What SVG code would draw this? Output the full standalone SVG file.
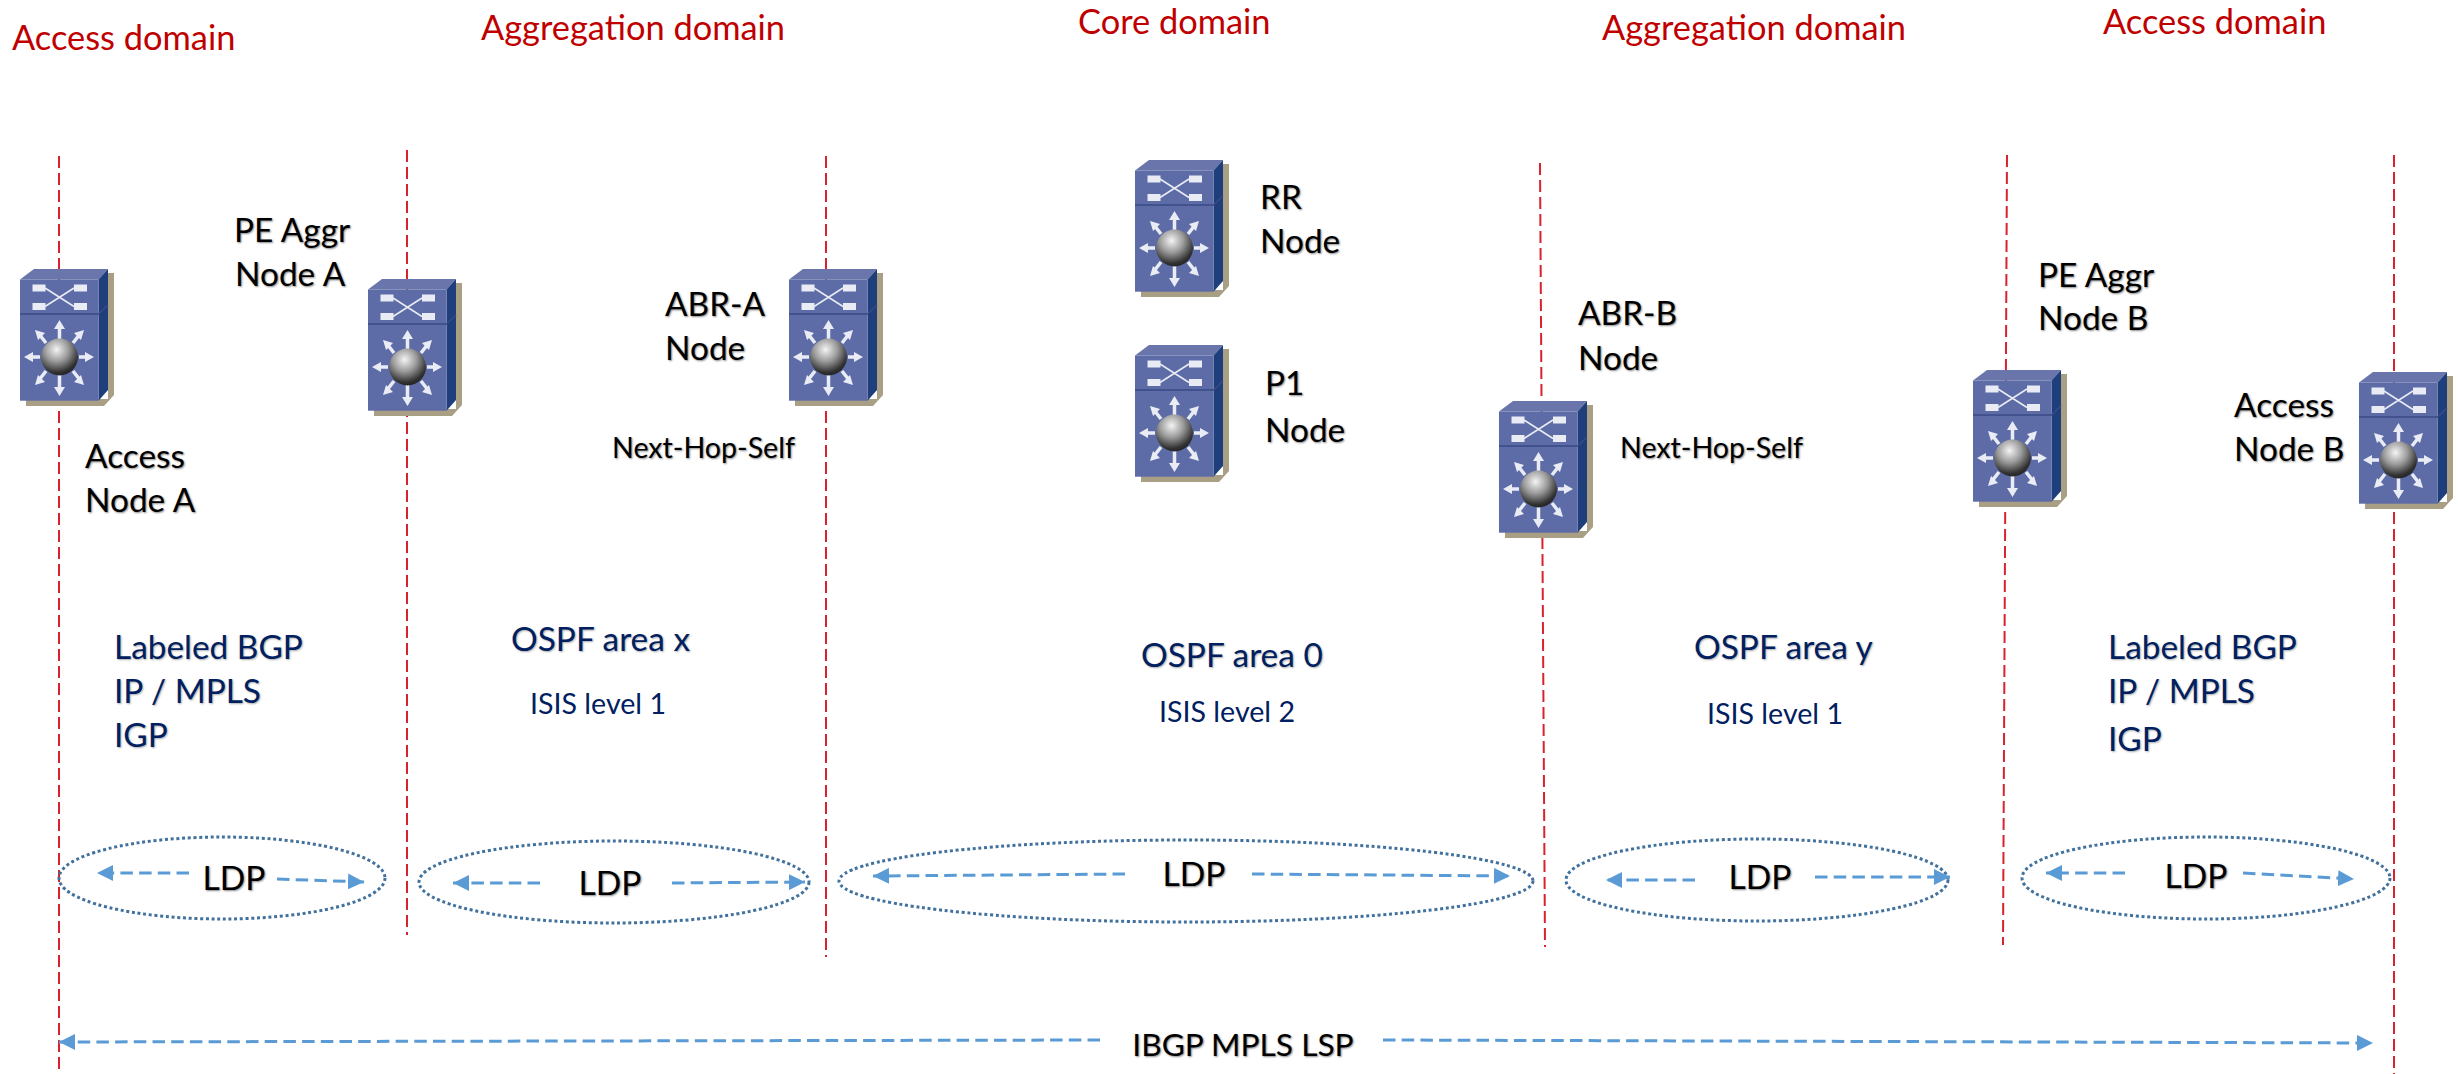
<svg xmlns="http://www.w3.org/2000/svg" width="2458" height="1074" viewBox="0 0 2458 1074">
<style>
text{font-family:"Lato","Carlito","Open Sans",sans-serif}
.dom{fill:#c00000;font-size:34.400px}
.lb{fill:#000;font-size:33.400px;text-shadow:1px 1px 2px #888}
.sm{fill:#000;font-size:28.600px;text-shadow:1px 1px 2px #888}
.ldp{fill:#000;font-size:33.500px;text-shadow:1px 1px 2px #888;text-anchor:middle}
.bl{fill:#002060;font-size:33.400px;text-shadow:1px 1px 2px #aaa}
.bs{fill:#002060;font-size:28.600px;text-anchor:middle}
.red{stroke:#d8232f;stroke-width:2;stroke-dasharray:12 5;fill:none}
.one{stroke:#5b9bd5;stroke-width:3;stroke-dasharray:12.500 6.200;fill:none;marker-end:url(#ah)}
.ell{stroke:#41719c;stroke-width:3;stroke-dasharray:3 2.700;fill:none}
</style>
<defs>
<marker id="ah" viewBox="0 0 16 16" refX="16" refY="8" markerWidth="16" markerHeight="16" markerUnits="userSpaceOnUse" orient="auto"><path d="M0 0L16 8L0 16Z" fill="#5b9bd5"/></marker>
<radialGradient id="ball" cx="0.42" cy="0.3" r="0.72"><stop offset="0" stop-color="#f4f4f4"/><stop offset="0.45" stop-color="#9a9a9a"/><stop offset="0.85" stop-color="#333"/><stop offset="1" stop-color="#222"/></radialGradient>
<symbol id="sw" width="96" height="140" viewBox="0 0 96 140" overflow="visible">
<path d="M6 137H84L94 126V4H88V130H6Z" fill="#a89f84"/>
<path d="M0 10.500L14 0H88L78.500 10.500Z" fill="#6a76ab"/>
<path d="M78.500 10.500L88 0V121L78.500 131.700Z" fill="#1e3f7c"/>
<rect x="0" y="10.500" width="78.500" height="121.200" fill="#5d6ca6"/>
<path d="M0 45H78.500L88 36" fill="none" stroke="#3a4a86" stroke-width="1.500"/>
<g fill="#e9ecf5"><rect x="12.500" y="15.500" width="13" height="7"/><rect x="12.500" y="34" width="13" height="7"/><rect x="54" y="15.500" width="13" height="7"/><rect x="54" y="34" width="13" height="7"/></g>
<path d="M25 19L54 37.500M25 37.500L54 19" stroke="#e9ecf5" stroke-width="1.500" fill="none"/>
<g stroke="#e9ecf5" stroke-width="3.500" fill="#e9ecf5">
<path d="M39.500 70V56M39.500 106V122M20 88H9M59 88H69M26 74L19 65M53 74L60 65M26 102L19 111M53 102L60 111"/>
<path stroke="none" d="M39.500 51L45 60H34ZM39.500 127L34 118H45ZM4 88L13 83V93ZM74 88L65 83V93ZM15 61L25 64L18 71ZM64 61L61 71L54 64ZM15 116L18 106L25 113ZM64 116L54 113L61 106Z"/>
</g>
<circle cx="39.500" cy="88" r="18.500" fill="url(#ball)"/>
</symbol>
</defs>
<g id="connectors">
<path class="red" d="M59 156V1074"/>
<path class="red" d="M407 150V935"/>
<path class="red" d="M826 156V957"/>
<path class="red" d="M1540 163L1545 947"/>
<path class="red" d="M2007 155L2003 945"/>
<path class="red" d="M2394 155V1074"/>
<ellipse class="ell" cx="222" cy="878" rx="163" ry="41"/>
<ellipse class="ell" cx="614" cy="882" rx="195" ry="41"/>
<ellipse class="ell" cx="1186" cy="881" rx="347" ry="41"/>
<ellipse class="ell" cx="1757" cy="880" rx="191" ry="41"/>
<ellipse class="ell" cx="2206" cy="878" rx="184" ry="41"/>
<path class="one" d="M189 873H97"/><path class="one" d="M277 879L364 882"/>
<path class="one" d="M540 883L453 883"/><path class="one" d="M672 883L805 882"/>
<path class="one" d="M1125 874L873 876"/><path class="one" d="M1252 874L1510 876"/>
<path class="one" d="M1695 880L1606 880"/><path class="one" d="M1815 877L1950 877"/>
<path class="one" d="M2125 873L2046 873"/><path class="one" d="M2243 873L2354 879"/>
<path class="one" d="M1100 1040L59 1042"/><path class="one" d="M1383 1040L2373 1043"/>
</g>
<g id="domains">
<text class="dom" x="12" y="50">Access domain</text>
<text class="dom" x="481" y="40">Aggregation domain</text>
<text class="dom" x="1078" y="34">Core domain</text>
<text class="dom" x="1602" y="40">Aggregation domain</text>
<text class="dom" x="2103" y="34">Access domain</text>
</g>
<g id="node-access-a"><use href="#sw" x="20" y="269"/><text class="lb" x="85" y="468">Access</text><text class="lb" x="85" y="512">Node A</text></g>
<g id="node-pe-aggr-a"><use href="#sw" x="368" y="279"/><text class="lb" x="234" y="242">PE Aggr</text><text class="lb" x="235" y="286">Node A</text></g>
<g id="node-abr-a"><use href="#sw" x="789" y="269"/><text class="lb" x="665" y="316">ABR-A</text><text class="lb" x="665" y="360">Node</text><text class="sm" x="612" y="458">Next-Hop-Self</text></g>
<g id="node-rr"><use href="#sw" x="1135" y="160"/><text class="lb" x="1260" y="209">RR</text><text class="lb" x="1260" y="253">Node</text></g>
<g id="node-p1"><use href="#sw" x="1135" y="345"/><text class="lb" x="1265" y="395">P1</text><text class="lb" x="1265" y="442">Node</text></g>
<g id="node-abr-b"><use href="#sw" x="1499" y="401"/><text class="lb" x="1578" y="325">ABR-B</text><text class="lb" x="1578" y="370">Node</text><text class="sm" x="1620" y="458">Next-Hop-Self</text></g>
<g id="node-pe-aggr-b"><use href="#sw" x="1973" y="370"/><text class="lb" x="2038" y="287">PE Aggr</text><text class="lb" x="2038" y="330">Node B</text></g>
<g id="node-access-b"><use href="#sw" x="2359" y="372"/><text class="lb" x="2234" y="417">Access</text><text class="lb" x="2234" y="461">Node B</text></g>
<g id="labels">
<text class="bl" x="114" y="659">Labeled BGP</text><text class="bl" x="114" y="703">IP / MPLS</text><text class="bl" x="114" y="747">IGP</text>
<text class="bl" x="511" y="651">OSPF area x</text><text class="bs" x="598" y="714">ISIS level 1</text>
<text class="bl" x="1141" y="667">OSPF area 0</text><text class="bs" x="1227" y="722">ISIS level 2</text>
<text class="bl" x="1694" y="659">OSPF area y</text><text class="bs" x="1775" y="724">ISIS level 1</text>
<text class="bl" x="2108" y="659">Labeled BGP</text><text class="bl" x="2108" y="703">IP / MPLS</text><text class="bl" x="2108" y="751">IGP</text>
<text class="ldp" x="234" y="890">LDP</text><text class="ldp" x="610" y="895">LDP</text><text class="ldp" x="1194" y="886">LDP</text><text class="ldp" x="1760" y="889">LDP</text><text class="ldp" x="2196" y="888">LDP</text>
<text x="1243" y="1056" fill="#000" font-size="31.700" text-anchor="middle" style="text-shadow:1px 1px 2px #888">IBGP MPLS LSP</text>
</g>
</svg>
